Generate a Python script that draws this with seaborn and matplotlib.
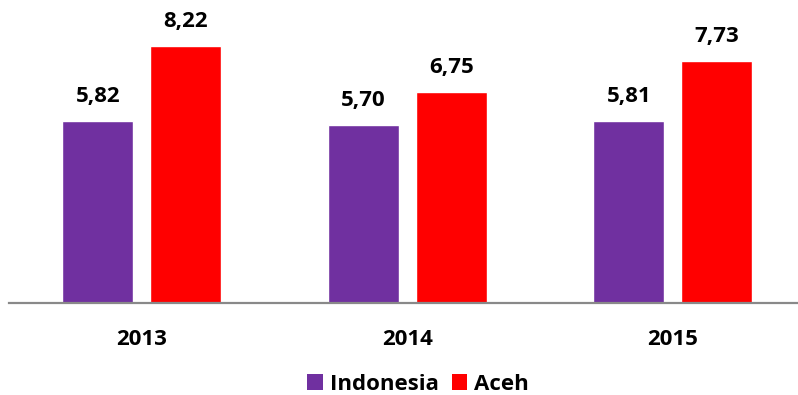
import matplotlib
matplotlib.use("Agg")
import matplotlib.pyplot as plt
import seaborn as sns
import pandas as pd

years = ["2013", "2014", "2015"]
indonesia = [5.82, 5.70, 5.81]
aceh = [8.22, 6.75, 7.73]
series_names = ["Indonesia", "Aceh"]
colors = ["#7030A0", "#FF0000"]

df = pd.DataFrame({
    "year": years * 2,
    "value": indonesia + aceh,
    "series": [series_names[0]] * 3 + [series_names[1]] * 3,
})

sns.set_style("white")
plt.rcParams["font.family"] = ["Open Sans", "DejaVu Sans"]
plt.rcParams["font.weight"] = "bold"
plt.rcParams["text.color"] = "black"
plt.rcParams["xtick.color"] = "black"
FS = 16

W, H = 798, 395
fig = plt.figure(figsize=(W / 100, H / 100), dpi=100)
ax = fig.add_axes([9 / W, 92 / H, 796.5 / W, 312.6 / H])

sns.barplot(data=df, x="year", y="value", hue="series", palette=colors,
            width=0.663, gap=0.19, ax=ax, legend=False, saturation=1)

ax.set_xlim(-0.5, 2.5)
ax.set_ylim(0, 10)
for c in ax.containers:
    ax.bar_label(c, labels=[f"{v:.2f}".replace(".", ",") for v in c.datavalues],
                 padding=10, fontsize=FS, fontweight="bold", color="black")

for s in ["top", "right", "left"]:
    ax.spines[s].set_visible(False)
ax.spines["bottom"].set_color("#898989")
ax.spines["bottom"].set_linewidth(1.6)
ax.set_yticks([])
ax.tick_params(axis="x", length=0, pad=19, labelsize=FS, labelcolor="black")
for t in ax.get_xticklabels():
    t.set_fontweight("bold")
ax.set_xlabel("")
ax.set_ylabel("")

from matplotlib.patches import Patch
handles = [Patch(facecolor=c, edgecolor="none") for c in colors]
fig.legend(handles, series_names, loc="center", bbox_to_anchor=(418 / W, (395 - 384) / H),
           ncol=2, frameon=False, handlelength=0.7, handleheight=0.7,
           handletextpad=0.3, columnspacing=0.6, labelcolor="black",
           prop={"weight": "bold", "size": FS})

fig.savefig("out.png", dpi=100)
